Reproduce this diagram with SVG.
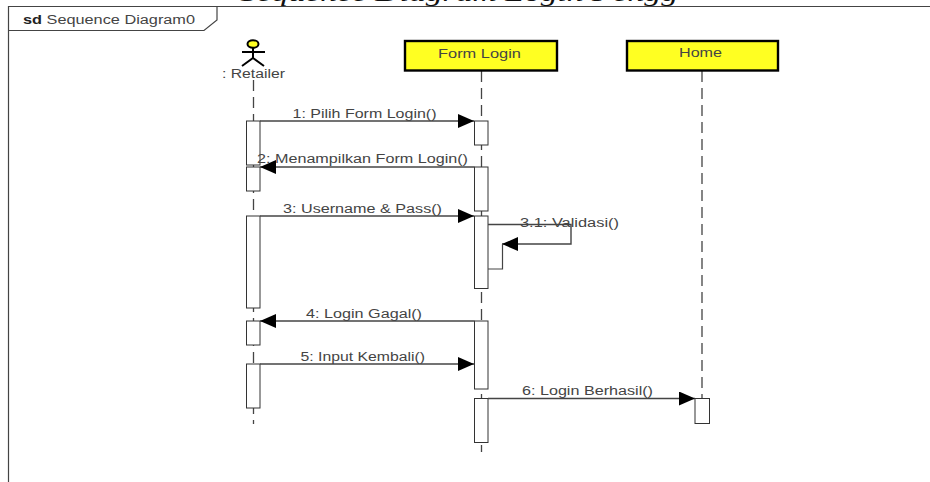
<svg xmlns="http://www.w3.org/2000/svg" width="930" height="482" viewBox="0 0 930 482">
<style>
.t{font-family:"Liberation Sans",Arial,sans-serif;font-size:12.500px;fill:#444}
.l{stroke:#444;stroke-width:1.2;fill:none}
.ll{stroke:#444;stroke-width:1.3;stroke-dasharray:11 6;fill:none}
.a{fill:#fff;stroke:#333;stroke-width:1}
.n{fill:#ffff22;stroke:#000;stroke-width:2.400}
.m{stroke:#444;stroke-width:1.4;fill:none;marker-end:url(#h)}
</style>
<defs><marker id="h" markerUnits="userSpaceOnUse" markerWidth="17" markerHeight="15" refX="16" refY="7" orient="auto"><path d="M0 0L16 7L0 14Z" fill="#000"/></marker></defs>
<rect width="930" height="482" fill="#fff"/>
<text x="240" y="0.500" font-family="Liberation Serif,serif" font-style="italic" font-size="24" fill="#111" textLength="438" lengthAdjust="spacingAndGlyphs">Sequence Diagram Login Pengg</text>
<rect x="0" y="6" width="930" height="476" fill="#fff"/>
<g id="frame"><path d="M930 6.500H8.500V482" class="l"/><path d="M8.500 30.500H204L217 20V6.500" class="l"/><text x="23" y="24" class="t" textLength="172" lengthAdjust="spacingAndGlyphs"><tspan font-weight="bold" fill="#222">sd</tspan> Sequence Diagram0</text></g>
<g id="lifelines"><path d="M253.500 80V424" class="ll"/><path d="M481.500 71V452" class="ll"/><path d="M702 71V424" class="ll"/></g>
<g id="retailer"><ellipse cx="253" cy="44" rx="5.500" ry="3.800" fill="#ffff22" stroke="#000" stroke-width="2"/><path d="M253 48V58M242 52H265M242 66L253 58L264 66" stroke="#000" stroke-width="2" fill="none"/><text x="222" y="78" class="t" textLength="63" lengthAdjust="spacingAndGlyphs">: Retailer</text></g>
<g id="form-login"><rect x="405" y="41" width="152" height="29.500" class="n"/><text x="438" y="58" class="t" textLength="83" lengthAdjust="spacingAndGlyphs">Form Login</text></g>
<g id="home"><rect x="627" y="41" width="151" height="29.500" class="n"/><text x="679" y="57" class="t" textLength="43" lengthAdjust="spacingAndGlyphs">Home</text></g>
<g id="activations">
<rect x="246.500" y="121" width="13.500" height="44" class="a"/><rect x="246.500" y="167" width="13.500" height="24" class="a"/><rect x="246.500" y="216" width="13.500" height="92" class="a"/><rect x="246.500" y="321" width="13.500" height="24" class="a"/><rect x="246.500" y="364" width="13.500" height="44" class="a"/>
<rect x="474.500" y="121" width="13.500" height="24" class="a"/><rect x="474.500" y="167" width="13.500" height="44" class="a"/><rect x="474.500" y="216" width="13.500" height="72.500" class="a"/><rect x="474.500" y="321" width="13.500" height="68" class="a"/><rect x="474.500" y="398.500" width="13.500" height="44" class="a"/>
<rect x="695" y="398.500" width="14.500" height="25" class="a"/>
</g>
<g id="connectors">
<path d="M260 121H474" class="m"/><path d="M474.500 167H260" class="m"/><path d="M260 216H474" class="m"/>
<path d="M488 224.500H571V244H502" class="m"/><path d="M488 269H502.500V244" class="l"/>
<path d="M474.500 321H260" class="m"/><path d="M260 364H474" class="m"/><path d="M488 398.500H695" class="m"/>
</g>
<g id="labels">
<text x="292.500" y="118" class="t" textLength="144" lengthAdjust="spacingAndGlyphs">1: Pilih Form Login()</text>
<text x="257" y="163" class="t" textLength="211" lengthAdjust="spacingAndGlyphs">2: Menampilkan Form Login()</text>
<text x="283" y="212.500" class="t" textLength="159" lengthAdjust="spacingAndGlyphs">3: Username &amp; Pass()</text>
<text x="520" y="226.500" class="t" textLength="99" lengthAdjust="spacingAndGlyphs">3.1: Validasi()</text>
<text x="306" y="318" class="t" textLength="116" lengthAdjust="spacingAndGlyphs">4: Login Gagal()</text>
<text x="300.500" y="361" class="t" textLength="124.500" lengthAdjust="spacingAndGlyphs">5: Input Kembali()</text>
<text x="522" y="395" class="t" textLength="131" lengthAdjust="spacingAndGlyphs">6: Login Berhasil()</text>
</g>
</svg>
